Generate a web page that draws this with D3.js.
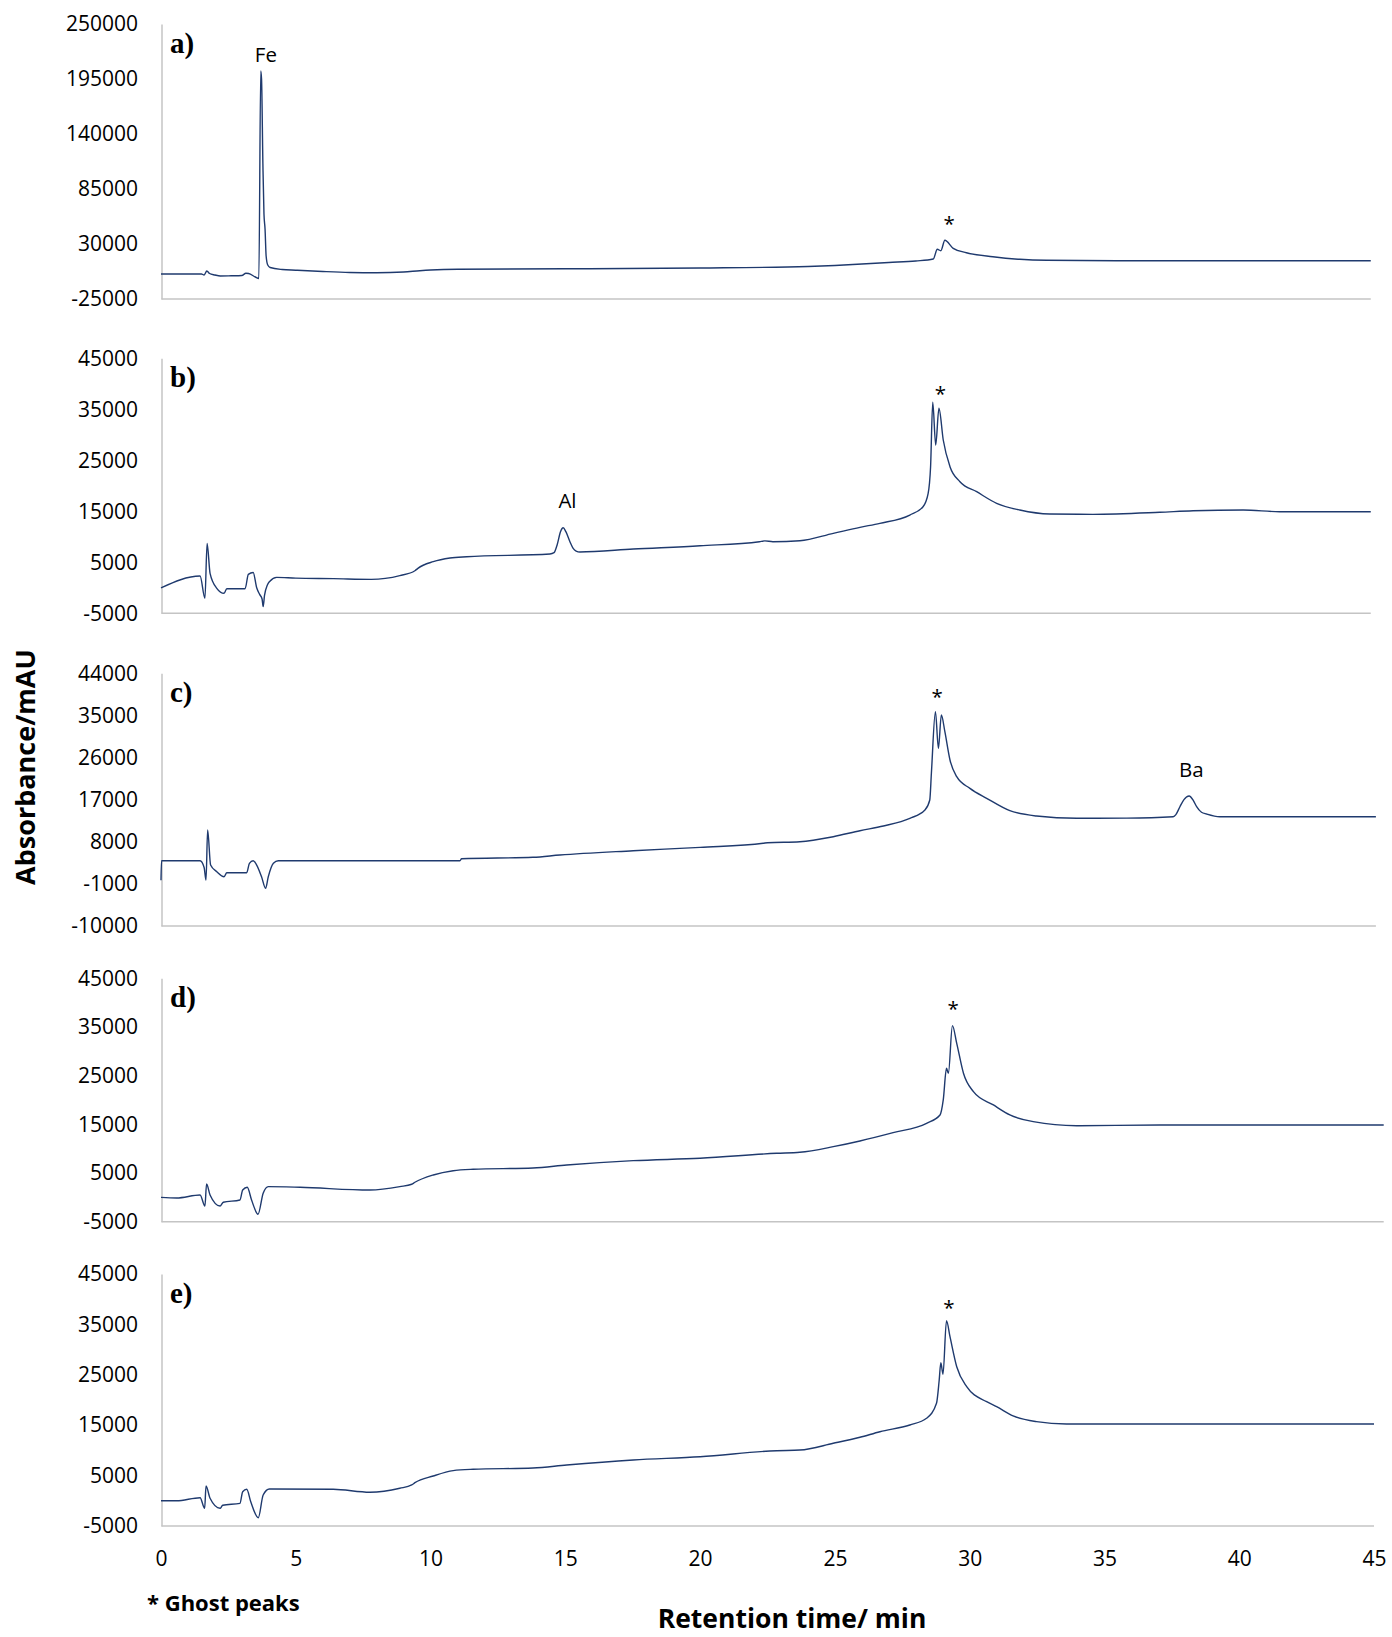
<!DOCTYPE html>
<html>
<head>
<meta charset="utf-8">
<script src="https://cdn.jsdelivr.net/npm/d3@7"></script>
<style>
  html, body { margin: 0; padding: 0; background: #fff; }
  svg { display: block; }
</style>
</head>
<body>
<svg id="chart" width="1392" height="1637"></svg>
<script>
// ---------------- DATA ----------------
const xTicks = [0, 5, 10, 15, 20, 25, 30, 35, 40, 45];

const ticksA = [-25000, 30000, 85000, 140000, 195000, 250000];
const ticksB = [-5000, 5000, 15000, 25000, 35000, 45000];
const ticksC = [-10000, -1000, 8000, 17000, 26000, 35000, 44000];
const ticksD = [-5000, 5000, 15000, 25000, 35000, 45000];
const ticksE = [-5000, 5000, 15000, 25000, 35000, 45000];

const timesA = [0, 1.5, 1.6, 1.7, 1.8, 2.0, 2.2, 2.6, 3.0, 3.15, 3.25, 3.5, 3.63, 3.70, 3.73, 3.78, 3.82, 3.86, 3.90, 3.96, 4.05, 4.5, 5, 6, 7, 8, 9, 9.6, 10, 11, 15, 20, 24, 25, 26, 27, 28, 28.65, 28.8, 28.93, 29.08, 29.39, 29.88, 30.86, 31.86, 32.85, 35.45, 41.5, 44.88];
const valuesA = [0, 0, -1000, 3000, 500, -1000, -2000, -1800, -1500, 800, 500, -3000, -4500, 203000, 195000, 110000, 60000, 45000, 18000, 9000, 6500, 4500, 3800, 2500, 1500, 1200, 2000, 3300, 4000, 4800, 5200, 6000, 7500, 8500, 10000, 11500, 13000, 15000, 24700, 23300, 33700, 25700, 21300, 17300, 14700, 13700, 13300, 13300, 13300];

const timesB = [0, 1.45, 1.63, 1.71, 1.82, 2.07, 2.34, 2.44, 3.12, 3.24, 3.42, 3.55, 3.66, 3.75, 3.79, 3.84, 3.95, 4.04, 4.29, 5, 6.4, 7.8, 8.86, 9.42, 9.53, 10.1, 10.72, 11.34, 14.43, 14.58, 14.7, 14.82, 14.92, 15.02, 15.17, 15.29, 15.4, 15.54, 17.52, 20, 22.2, 22.4, 22.7, 23.7, 24.94, 25.93, 26.67, 27.78, 28.27, 28.46, 28.55, 28.63, 28.74, 28.86, 29.02, 29.27, 29.64, 30.26, 31, 31.86, 32.97, 34.57, 37.05, 38.29, 40.15, 41.5, 44.88];
const valuesB = [0, 2300, -2060, 8720, 2840, -100, -1080, -180, -180, 2640, 3000, 0, -1300, -2200, -3700, -1500, 600, 1300, 2050, 1900, 1800, 1660, 2400, 3350, 3820, 5120, 5840, 6100, 6630, 6880, 8500, 11000, 11780, 11000, 9040, 7740, 7200, 7020, 7600, 8250, 9040, 9200, 9040, 9230, 10680, 11860, 12640, 14270, 15900, 18530, 23750, 36370, 28000, 35200, 28980, 23750, 20800, 18840, 16570, 15250, 14470, 14400, 14800, 15100, 15250, 14920, 14900];

const timesC = [0, 0.02, 1.45, 1.6, 1.67, 1.73, 1.84, 2.07, 2.34, 2.44, 3.18, 3.28, 3.42, 3.55, 3.73, 3.88, 3.98, 4.17, 4.35, 9.6, 11.09, 11.15, 13.8, 14.8, 17.52, 20, 22.34, 22.5, 23.7, 24.94, 25.93, 26.8, 27.78, 28.34, 28.52, 28.58, 28.73, 28.84, 28.95, 29.08, 29.27, 29.52, 30.01, 30.63, 31.49, 32.48, 33.97, 35.82, 37.55, 37.65, 37.8, 37.95, 38.14, 38.3, 38.42, 38.6, 38.79, 39.28, 41.5, 45.07];
const valuesC = [-200, 3950, 3950, 2500, -200, 10510, 3030, 1600, 530, 1390, 1390, 3400, 3950, 3030, 530, -1950, 530, 3400, 3950, 3950, 3950, 4380, 4680, 5170, 6090, 6810, 7670, 7800, 8010, 9080, 10360, 11370, 13010, 14790, 16930, 22630, 35800, 27970, 35090, 31520, 25470, 21900, 19420, 17290, 14640, 13500, 13010, 13050, 13360, 13800, 15490, 17000, 17780, 16800, 15490, 14300, 13930, 13360, 13360, 13360];

const timesD = [0, 0.58, 1.45, 1.63, 1.69, 1.82, 2.19, 2.31, 2.93, 3.03, 3.2, 3.36, 3.6, 3.79, 3.98, 5.16, 7.75, 8.86, 9.3, 9.42, 10.1, 10.84, 11.58, 13.8, 15.05, 17.52, 20, 22.84, 23.7, 24.94, 25.93, 27.16, 28.4, 28.9, 29.02, 29.14, 29.21, 29.36, 29.52, 29.77, 30.14, 30.88, 31.49, 32.36, 33.97, 37.05, 41.5, 45.36];
const valuesD = [0, -130, 490, -1770, 2750, 490, -1770, -1010, -540, 1500, 2070, -540, -3470, 840, 2200, 2070, 1500, 2200, 2690, 3100, 4600, 5480, 5770, 6040, 6650, 7540, 8030, 9050, 9260, 10410, 11580, 13290, 15220, 16930, 20010, 26510, 25490, 35270, 31650, 25490, 21710, 18980, 16930, 15550, 14720, 14860, 14860, 14860];

const timesE = [0, 0.58, 1.45, 1.62, 1.67, 1.82, 2.19, 2.29, 2.93, 3.03, 3.18, 3.33, 3.61, 3.79, 4.02, 6.39, 7.75, 8.86, 9.3, 9.42, 10.1, 10.84, 11.58, 13.8, 15.05, 17.52, 20, 22.84, 23.7, 24.94, 25.93, 26.67, 27.78, 28.4, 28.77, 28.87, 28.93, 29.01, 29.14, 29.27, 29.52, 29.89, 30.63, 31, 31.61, 32.48, 33.59, 41.5, 45.0];
const valuesE = [0, 0, 620, -1490, 2940, 500, -1490, -890, -500, 1810, 2280, -180, -3350, 1150, 2340, 2280, 1690, 2480, 3140, 3590, 4920, 5980, 6250, 6510, 7110, 8100, 8750, 9940, 10070, 11410, 12600, 13710, 15040, 16370, 19350, 23970, 27400, 25100, 35740, 32560, 26610, 22640, 19660, 18670, 16830, 15700, 15240, 15240, 15240];

const panelLetters = ["a)", "b)", "c)", "d)", "e)"];
const yDomains = [[-25000, 250000], [-5000, 45000], [-10000, 44000], [-5000, 45000], [-5000, 45000]];

// annotations: panel index, text, time, value
const annoPanel = [0, 0, 1, 1, 2, 2, 3, 4];
const annoText  = ["Fe", "*", "Al", "*", "*", "Ba", "*", "*"];
const annoTime  = [3.89, 29.24, 15.08, 28.91, 28.79, 38.22, 29.39, 29.23];
const annoValue = [212000, 43000, 15640, 36630, 37440, 21840, 37260, 36870];

// ---------------- LAYOUT ----------------
const svg = d3.select("#chart");
const left = 161.5;
const x = d3.scaleLinear().domain([0, 45]).range([161, 1374]);
const panelTops = [24, 358.3, 673.3, 978.3, 1274];
const panelBottoms = [299, 613.3, 926, 1221.7, 1526];

const lineColor = "#1f3a6e";
const axisColor = "#c4c4c4";
const tickFont = "'Open Sans', 'Noto Sans', sans-serif";
const fmt = d => String(d);

const allTimes = [timesA, timesB, timesC, timesD, timesE];
const allValues = [valuesA, valuesB, valuesC, valuesD, valuesE];
const allTicks = [ticksA, ticksB, ticksC, ticksD, ticksE];

const panels = panelLetters.map((letter, i) => ({
  letter,
  data: allTimes[i].map((t, j) => ({ t, v: allValues[i][j] })),
  y: d3.scaleLinear().domain(yDomains[i]).range([panelBottoms[i], panelTops[i]]),
  ticks: allTicks[i],
  top: panelTops[i],
  bottom: panelBottoms[i]
}));

panels.forEach((p, i) => {
  const g = svg.append("g");
  const tEnd = p.data[p.data.length - 1].t;

  // y axis
  const yAxis = d3.axisLeft(p.y).tickValues(p.ticks).tickSize(0).tickPadding(23.5)
    .tickFormat(fmt);
  const ga = g.append("g").attr("transform", `translate(${left},0)`).call(yAxis);
  ga.select(".domain").attr("stroke", axisColor).attr("stroke-width", 1.5);
  ga.selectAll("text").attr("font-family", tickFont).attr("font-size", 21).attr("fill", "#000");

  // x axis baseline
  g.append("line")
    .attr("x1", left).attr("x2", x(tEnd))
    .attr("y1", p.bottom).attr("y2", p.bottom)
    .attr("stroke", axisColor).attr("stroke-width", 1.5);

  // trace
  const line = d3.line().x(d => x(d.t)).y(d => p.y(d.v)).curve(d3.curveMonotoneX);
  g.append("path").datum(p.data)
    .attr("d", line)
    .attr("fill", "none")
    .attr("stroke", lineColor)
    .attr("stroke-width", 1.4)
    .attr("stroke-linejoin", "round");

  // panel letter
  g.append("text")
    .attr("x", 170).attr("y", p.top + 29)
    .attr("font-family", "'Liberation Serif', 'DejaVu Serif', serif")
    .attr("font-weight", "bold")
    .attr("font-size", 29)
    .attr("fill", "#000")
    .text(p.letter);
});

// annotations
annoText.forEach((txt, k) => {
  const p = panels[annoPanel[k]];
  svg.append("text")
    .attr("x", x(annoTime[k]))
    .attr("y", p.y(annoValue[k]))
    .attr("text-anchor", "middle")
    .attr("font-family", tickFont)
    .attr("font-size", 20.5)
    .attr("fill", "#000")
    .text(txt);
});

// bottom x axis labels (shared)
const xAxis = d3.axisBottom(x).tickValues(xTicks).tickSize(0).tickPadding(25).tickFormat(fmt);
const gx = svg.append("g").attr("transform", `translate(0,${panelBottoms[4]})`).call(xAxis);
gx.select(".domain").remove();
gx.selectAll("text").attr("font-family", tickFont).attr("font-size", 21).attr("fill", "#000");

// axis titles
svg.append("text")
  .attr("transform", "translate(35,767) rotate(-90)")
  .attr("text-anchor", "middle")
  .attr("font-family", tickFont)
  .attr("font-weight", "bold")
  .attr("font-size", 27)
  .attr("fill", "#000")
  .text("Absorbance/mAU");

svg.append("text")
  .attr("x", 792).attr("y", 1628)
  .attr("text-anchor", "middle")
  .attr("font-family", tickFont)
  .attr("font-weight", "bold")
  .attr("font-size", 26.5)
  .attr("fill", "#000")
  .text("Retention time/ min");

svg.append("text")
  .attr("x", 147).attr("y", 1611)
  .attr("font-family", tickFont)
  .attr("font-weight", "bold")
  .attr("font-size", 22)
  .attr("fill", "#000")
  .text("* Ghost peaks");
</script>
</body>
</html>
